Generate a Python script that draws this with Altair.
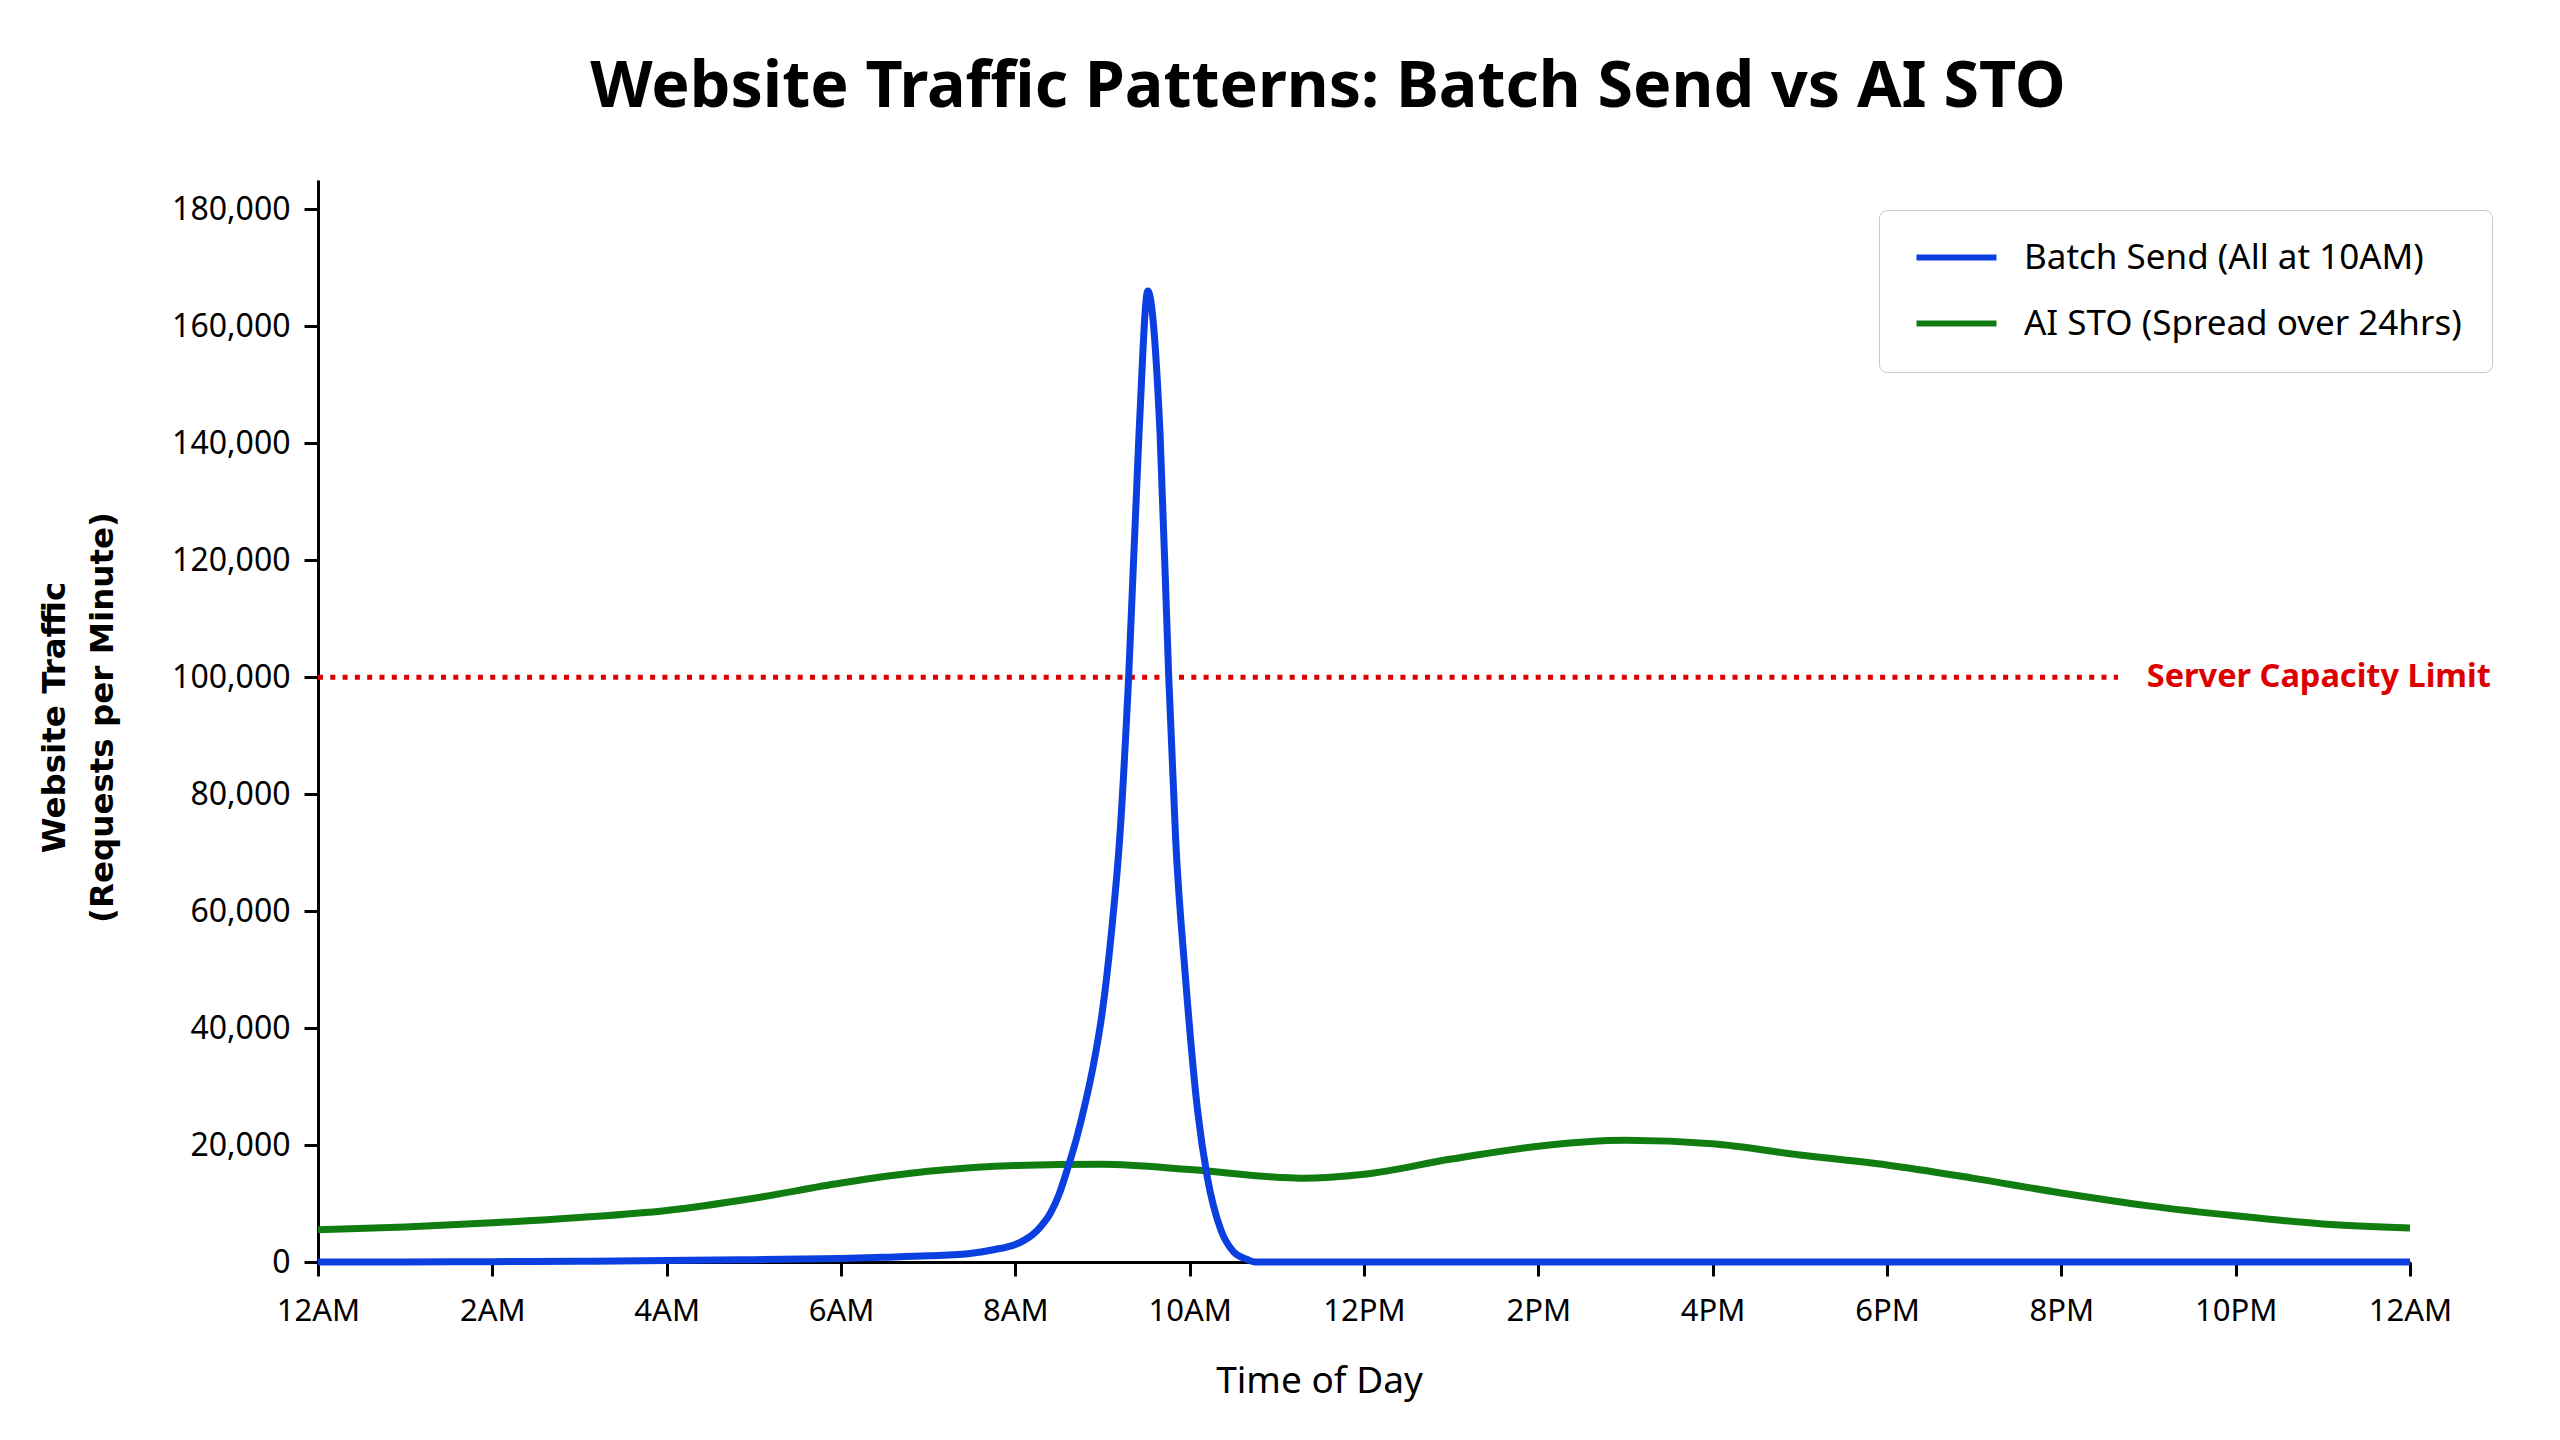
"""Website traffic chart: batch send spike vs AI send-time optimisation, drawn with altair."""

import altair as alt
import pandas as pd


FIG_WIDTH = 2092
FIG_HEIGHT = 1082
FONT = 'Noto Sans'
BLUE = '#0b3fe0'
GREEN = '#117d11'
RED = '#dd0000'

BATCH_LABEL = 'Batch Send (All at 10AM)'
STO_LABEL = 'AI STO (Spread over 24hrs)'

# hours since midnight / requests per minute
BATCH_HOURS = [0, 1, 2, 3, 4, 5, 6, 6.5, 7, 7.5, 7.75, 8, 8.1, 8.2, 8.3, 8.4, 8.5, 8.6,
               8.7, 8.8, 8.9, 9.0, 9.1, 9.2, 9.3, 9.42, 9.52, 9.66, 9.76, 9.84, 9.95,
               10.09, 10.2, 10.36, 10.5, 10.65, 10.75, 11, 12, 14, 16, 18, 20, 22, 24]
BATCH_TRAFFIC = [0, 20, 60, 120, 250, 400, 600, 800, 1050, 1500, 2100, 3000, 3700, 4700,
                 6200, 8300, 11500, 16000, 21000, 27000, 34000, 43000, 56000, 73000,
                 100000, 142000, 166000, 141700, 100000, 72000, 49000, 26000, 14700, 5400,
                 1800, 500, 0, 0, 0, 0, 0, 0, 0, 0, 0]

STO_HOURS = [0, 1, 2, 3, 4, 5, 6, 7, 8, 9, 10, 11, 11.3, 12, 13, 14, 15, 16, 17, 18, 19,
             20, 21, 22, 23, 24]
STO_TRAFFIC = [5500, 6000, 6700, 7600, 8800, 10900, 13500, 15500, 16500, 16700, 15800,
               14500, 14300, 15000, 17600, 19800, 20800, 20200, 18300, 16600, 14300, 11800,
               9600, 7900, 6500, 5800]

TICK_HOURS = [0, 2, 4, 6, 8, 10, 12, 14, 16, 18, 20, 22, 24]
TICK_LABELS = ['12AM', '2AM', '4AM', '6AM', '8AM', '10AM', '12PM', '2PM', '4PM', '6PM',
               '8PM', '10PM', '12AM']
Y_TICKS = [0, 20000, 40000, 60000, 80000, 100000, 120000, 140000, 160000, 180000]

CAPACITY = 100000
CAPACITY_LINE_END = 20.65
CAPACITY_LABEL_AT = 20.98
CAPACITY_LABEL = 'Server Capacity Limit'


batch_df = pd.DataFrame({'hour': BATCH_HOURS, 'traffic': BATCH_TRAFFIC, 'series': BATCH_LABEL})
sto_df = pd.DataFrame({'hour': STO_HOURS, 'traffic': STO_TRAFFIC, 'series': STO_LABEL})
cap_df = pd.DataFrame({'hour': [0], 'hour_end': [CAPACITY_LINE_END],
                       'label_hour': [CAPACITY_LABEL_AT], 'traffic': [CAPACITY],
                       'label': [CAPACITY_LABEL]})

label_expr = '[' + ','.join(f"'{t}'" for t in TICK_LABELS) + '][datum.value / 2]'

x_axis = alt.Axis(
    values=TICK_HOURS, labelExpr=label_expr, labelFlush=False, grid=False,
    title='Time of Day', titleX=1001, titleY=130, titleAlign='center',
    titleBaseline='alphabetic', titleFont=FONT, titleFontSize=37, titleFontWeight='normal',
    labelFont=FONT, labelFontSize=31, labelPadding=20, labelColor='black',
    tickSize=14, tickWidth=3, tickColor='black', domainWidth=3, domainColor='black',
    titleColor='black',
)
y_axis = alt.Axis(
    values=Y_TICKS, format=',d', grid=False,
    title=['Website Traffic', '(Requests per Minute)'], titleX=-264, titleY=537,
    titleAngle=270, titleAlign='center', titleBaseline='middle', titleLineHeight=48,
    titleFont='DejaVu Sans', titleFontSize=32.5, titleFontWeight='bold', titleColor='black',
    labelFont=FONT, labelFontSize=32, labelPadding=14, labelColor='black',
    tickSize=14, tickWidth=3, tickColor='black', domainWidth=3, domainColor='black',
)
x_scale = alt.Scale(domain=[0, 24], nice=False, zero=False)
y_scale = alt.Scale(domain=[0, 185000], nice=False)

color = alt.Color(
    'series:N',
    scale=alt.Scale(domain=[BATCH_LABEL, STO_LABEL], range=[BLUE, GREEN]),
    legend=alt.Legend(
        title=None, orient='none', legendX=1561, legendY=30,
        symbolType='M-4,0H4', symbolSize=400, symbolStrokeWidth=6, symbolOffset=30,
        labelFont=FONT, labelFontSize=35, labelColor='black', labelLimit=800,
        labelOffset=50, padding=30, rowPadding=30,
        fillColor='white', strokeColor='#c8c8c8', cornerRadius=8,
    ),
)


def traffic_line(df: pd.DataFrame, width: float) -> alt.Chart:
    """Line of one sending strategy."""
    return alt.Chart(df).mark_line(interpolate='monotone', strokeWidth=width).encode(
        x=alt.X('hour:Q', scale=x_scale, axis=x_axis),
        y=alt.Y('traffic:Q', scale=y_scale, axis=y_axis),
        color=color,
    )


capacity_rule = alt.Chart(cap_df).mark_rule(
    color=RED, strokeWidth=5, strokeDash=[5, 7.3],
).encode(
    x=alt.X('hour:Q', scale=x_scale, axis=x_axis),
    x2='hour_end:Q',
    y=alt.Y('traffic:Q', scale=y_scale, axis=y_axis),
)

capacity_text = alt.Chart(cap_df).mark_text(
    align='left', baseline='middle', font=FONT, fontSize=32.5, fontWeight='bold', color=RED,
).encode(
    x=alt.X('label_hour:Q', scale=x_scale, axis=x_axis),
    y=alt.Y('traffic:Q', scale=y_scale, axis=y_axis),
    text='label:N',
)

chart = alt.layer(
    capacity_rule,
    traffic_line(sto_df, 7),
    traffic_line(batch_df, 7),
    capacity_text,
).properties(
    width=FIG_WIDTH,
    height=FIG_HEIGHT,
    background='white',
    title=alt.TitleParams(
        'Website Traffic Patterns: Batch Send vs AI STO',
        font=FONT, fontSize=64.5, fontWeight='bold', color='black',
        anchor='middle', frame='group', dx=-36, offset=60,
    ),
    autosize=alt.AutoSizeParams(type='none'),
    padding={'left': 310, 'top': 172, 'right': 130, 'bottom': 160},
).configure_view(
    stroke=None,
)

chart.save('out.html', embed_options={'renderer': 'svg', 'actions': False})
